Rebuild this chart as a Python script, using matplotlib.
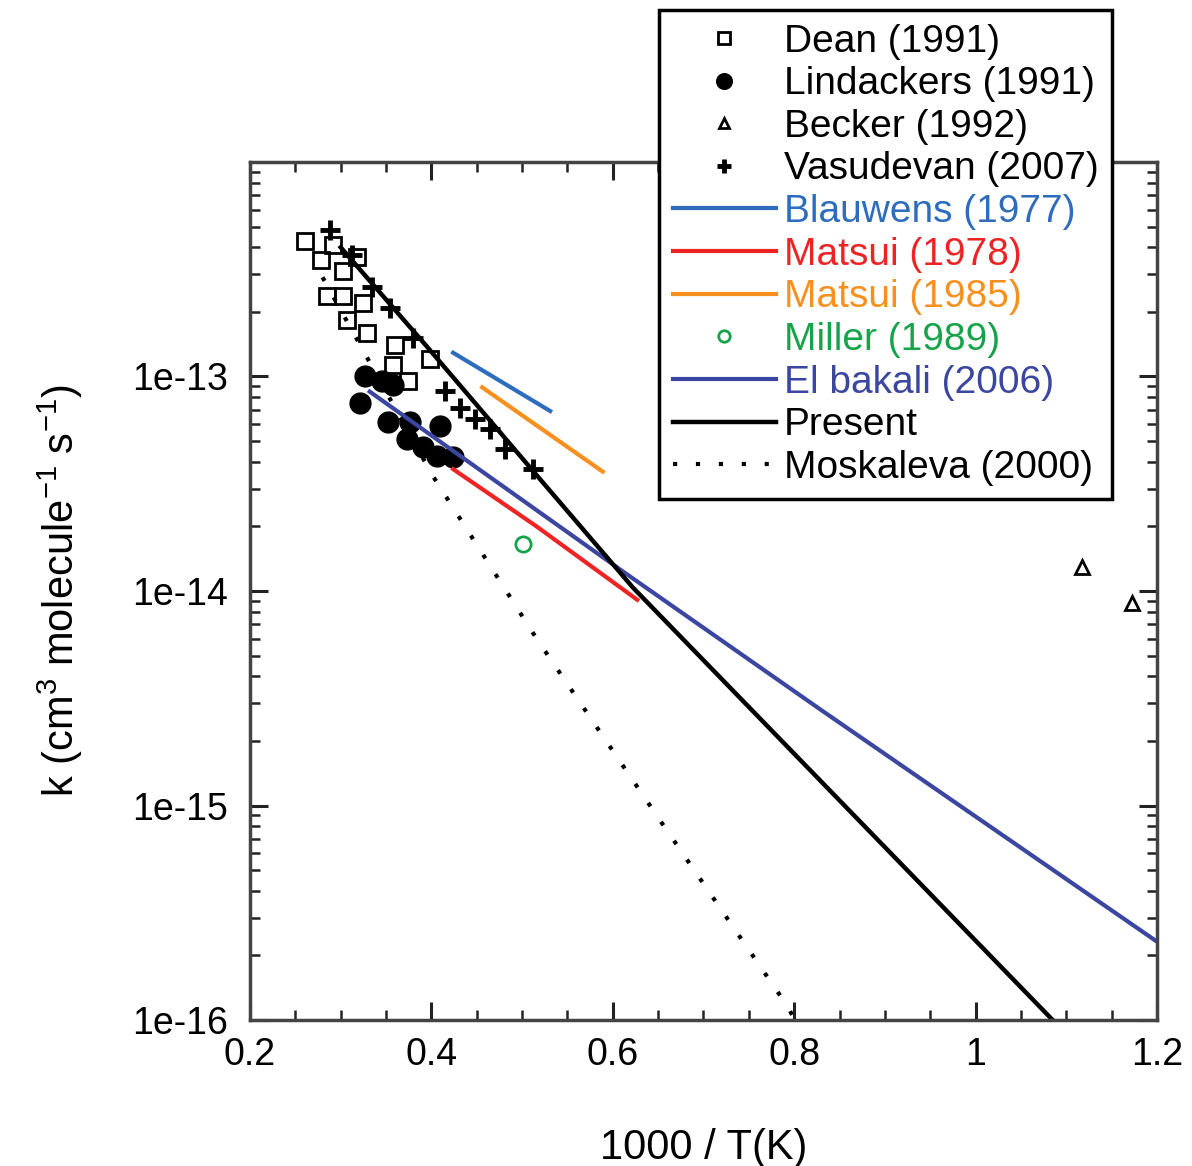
import numpy as np
import matplotlib.pyplot as plt

plt.rcParams['font.family'] = ['Liberation Sans', 'DejaVu Sans']
plt.rcParams['mathtext.fontset'] = 'custom'
plt.rcParams['mathtext.rm'] = 'Liberation Sans'
plt.rcParams['mathtext.it'] = 'Liberation Sans:italic'

# ---- datos (x = 1000/T, y = k) ----
dean_x = [0.261, 0.292, 0.303, 0.285, 0.303, 0.325, 0.307, 0.329, 0.360, 0.358, 0.374, 0.398, 0.278, 0.318]
dean_k = [4.3e-13, 4.1e-13, 3.1e-13, 2.37e-13, 2.37e-13, 2.2e-13, 1.83e-13, 1.59e-13, 1.40e-13, 1.13e-13, 9.5e-14, 1.2e-13, 3.5e-13, 3.6e-13]

lind_x = [0.327, 0.346, 0.358, 0.321, 0.352, 0.376, 0.409, 0.373, 0.391, 0.406, 0.424]
lind_k = [1.01e-13, 9.5e-14, 9.1e-14, 7.5e-14, 6.15e-14, 6.15e-14, 5.85e-14, 5.1e-14, 4.7e-14, 4.27e-14, 4.22e-14]

becker_x = [1.117, 1.172]
becker_k = [1.30e-14, 8.8e-15]

vasu_x = [0.288, 0.312, 0.335, 0.354, 0.380, 0.415, 0.432, 0.448, 0.465, 0.481, 0.512]
vasu_k = [4.8e-13, 3.7e-13, 2.6e-13, 2.08e-13, 1.51e-13, 8.6e-14, 7.1e-14, 6.35e-14, 5.7e-14, 4.6e-14, 3.7e-14]

blauwens_x = [0.424, 0.531]
blauwens_k = [1.29e-13, 6.9e-14]

matsui78_x = [0.424, 0.516, 0.627]
matsui78_k = [3.7e-14, 2.0e-14, 9.1e-15]

matsui85_x = [0.456, 0.589]
matsui85_k = [8.9e-14, 3.6e-14]

miller_x = [0.501]
miller_k = [1.66e-14]

elbakali_x = [0.332, 0.608, 0.828, 1.2]
elbakali_k = [8.5e-14, 1.26e-14, 2.82e-15, 2.32e-16]

present_x = [0.30, 0.395, 0.512, 0.622, 1.085]
present_k = [4.0e-13, 1.38e-13, 3.63e-14, 1.04e-14, 1.0e-16]

mosk_x = [0.28, 0.401, 0.516, 0.654, 0.792, 0.81]
mosk_k = [2.9e-13, 3.47e-14, 6.0e-15, 8.3e-16, 1.17e-16, 8.5e-17]

fig = plt.figure(figsize=(11.92, 11.66), dpi=100)
ax = fig.add_axes([0.2097, 0.1252, 0.7609, 0.7359])

ax.plot(dean_x, dean_k, 's', color='black', mfc='none', mec='black', ms=11, mew=2, label='Dean (1991)')
ax.plot(lind_x, lind_k, 'o', color='black', ms=15, label='Lindackers (1991)')
ax.plot(becker_x, becker_k, '^', color='black', mfc='none', mec='black', ms=10, mew=2, label='Becker (1992)')
ax.plot(vasu_x, vasu_k, '+', color='black', ms=14, mew=3.5, label='Vasudevan (2007)')
ax.plot(blauwens_x, blauwens_k, '-', color='#2e6cbd', lw=3, label='Blauwens (1977)')
ax.plot(matsui78_x, matsui78_k, '-', color='#ee2424', lw=3, label='Matsui (1978)')
ax.plot(matsui85_x, matsui85_k, '-', color='#f7901e', lw=3, label='Matsui (1985)')
ax.plot(miller_x, miller_k, 'o', color='#16a34a', mfc='none', mec='#16a34a', ms=11, mew=2, label='Miller (1989)')
ax.plot(elbakali_x, elbakali_k, '-', color='#3a46a0', lw=3, label='El bakali (2006)')
ax.plot(present_x, present_k, '-', color='black', lw=3.2, label='Present')
ax.plot(mosk_x, mosk_k, linestyle=(0, (1, 4.5)), color='black', lw=3, label='Moskaleva (2000)')

ax.set_yscale('log')
ax.set_xlim(0.2, 1.2)
ax.set_ylim(1e-16, 1e-12)

ax.set_xticks([0.2, 0.4, 0.6, 0.8, 1.0, 1.2])
ax.set_xticklabels(['0.2', '0.4', '0.6', '0.8', '1', '1.2'])
ax.set_xticks(np.arange(0.25, 1.2, 0.05), minor=True)
ax.set_yticks([1e-16, 1e-15, 1e-14, 1e-13])
ax.set_yticklabels(['1e-16', '1e-15', '1e-14', '1e-13'])

ax.tick_params(which='both', direction='in', top=True, right=True, color='#222222')
ax.tick_params(which='major', length=13, width=2.2, labelsize=27)
ax.tick_params(which='minor', length=7, width=1.8)
ax.tick_params(axis='x', which='major', pad=12)
ax.tick_params(axis='y', which='major', pad=16)
for s in ax.spines.values():
    s.set_linewidth(2.5)
    s.set_color('#444444')

ax.set_xlabel('1000 / T(K)', fontsize=30, labelpad=40)
ax.set_ylabel('k (cm$^{3}$ molecule$^{-1}$ s$^{-1}$)', fontsize=30, labelpad=34)

leg = ax.legend(loc='upper right', bbox_to_anchor=(0.9329, 0.9914), bbox_transform=fig.transFigure,
                borderaxespad=0, fontsize=28, labelcolor='linecolor', frameon=True, fancybox=False,
                framealpha=1, edgecolor='black', handlelength=2.65, handletextpad=0.2,
                labelspacing=0.17, borderpad=0.35, markerscale=0.75)
leg.get_frame().set_linewidth(2.5)

plt.savefig('out.png', dpi=100)
